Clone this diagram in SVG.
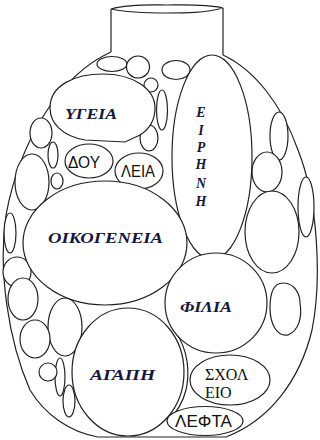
<svg xmlns="http://www.w3.org/2000/svg" width="320" height="440" viewBox="0 0 320 440">
<style>
.s{fill:#fff;stroke:#222;stroke-width:1.2}
.n{fill:none;stroke:#222;stroke-width:1.2}
.it{font-family:"Liberation Serif",serif;font-style:italic;font-weight:bold;fill:#16163a}
.sa{font-family:"Liberation Sans",sans-serif;fill:#111}
.se{font-family:"Liberation Serif",serif;fill:#111}
</style>
<rect width="320" height="440" fill="#fff"/>
<g id="jar">
<path class="n" d="M111,9 L111,52 M223,8 L223,55"/>
<path class="s" d="M111,9 C130,4 150,5 167,5 C185,5 205,4 223,8 C205,13 185,13 167,13 C150,13 130,13 111,9 Z"/>
<path class="n" d="M111,52 C60,75 20,140 6,215 C-2,270 8,340 30,390 C45,415 70,432 98,437 L226,437 C270,420 300,380 312,330 C322,280 318,200 298,150 C282,105 255,70 223,55"/>
</g>
<g id="small-circles">
<ellipse class="s" cx="112" cy="64" rx="15" ry="7.5"/>
<ellipse class="s" cx="138" cy="67" rx="11.5" ry="11"/>
<ellipse class="s" cx="151" cy="85" rx="7" ry="7"/>
<ellipse class="s" cx="176" cy="70" rx="14" ry="9.5"/>
<ellipse class="s" cx="162" cy="110" rx="5.5" ry="20"/>
<ellipse class="s" cx="149" cy="138" rx="9" ry="13"/>
<ellipse class="s" cx="279" cy="136" rx="9" ry="24"/>
<ellipse class="s" cx="267" cy="172" rx="15" ry="20"/>
<ellipse class="s" cx="306" cy="207" rx="8" ry="30"/>
<ellipse class="s" cx="272" cy="232" rx="27" ry="41"/>
<path class="s" d="M283,283 C296,283 300,296 300,303 C302,315 300,330 288,335 C276,337 270,322 270,308 C270,292 274,283 283,283 Z"/>
<ellipse class="s" cx="41" cy="133" rx="11" ry="15"/>
<ellipse class="s" cx="53" cy="155" rx="5" ry="13"/>
<ellipse class="s" cx="32" cy="182" rx="17" ry="28"/>
<ellipse class="s" cx="57" cy="181" rx="6" ry="8"/>
<ellipse class="s" cx="10" cy="233" rx="6" ry="20"/>
<ellipse class="s" cx="17" cy="272" rx="14" ry="15"/>
<ellipse class="s" cx="23" cy="299" rx="15" ry="21"/>
<ellipse class="s" cx="65" cy="327" rx="17" ry="29"/>
<ellipse class="s" cx="35" cy="339" rx="15" ry="19"/>
<ellipse class="s" cx="60" cy="377" rx="5" ry="19"/>
<ellipse class="s" cx="48" cy="372" rx="9" ry="9"/>
<ellipse class="s" cx="69" cy="401" rx="6" ry="16"/>
</g>
<g id="eirini">
<ellipse class="s" cx="212" cy="157" rx="40" ry="102"/>
<text class="it" font-size="14" text-anchor="middle"><tspan x="201" y="117">Ε</tspan><tspan x="201" y="135">Ι</tspan><tspan x="201" y="152">Ρ</tspan><tspan x="201" y="169">Η</tspan><tspan x="201" y="188">Ν</tspan><tspan x="201" y="206">Η</tspan></text>
</g>
<g id="ygeia">
<path class="s" d="M50,108 C50,85 75,74 103,74 C132,74 155,88 155,108 C155,122 148,130 140,135 L125,142 L85,140 C62,136 50,123 50,108 Z"/>
<text class="it" x="65" y="119" font-size="15" textLength="52" lengthAdjust="spacingAndGlyphs">ΥΓΕΙΑ</text>
</g>
<g id="dou">
<ellipse class="s" cx="89" cy="161" rx="24" ry="17"/>
<text class="sa" x="68" y="168" font-size="16" textLength="32" lengthAdjust="spacingAndGlyphs">ΔΟΥ</text>
</g>
<g id="leia">
<ellipse class="s" cx="139" cy="171" rx="24" ry="18"/>
<text class="sa" x="121" y="177" font-size="17" textLength="34" lengthAdjust="spacingAndGlyphs">ΛΕΙΑ</text>
</g>
<g id="oikogeneia">
<ellipse class="s" cx="105" cy="243" rx="82" ry="62"/>
<text class="it" x="48" y="243" font-size="14" textLength="115" lengthAdjust="spacingAndGlyphs">ΟΙΚΟΓΕΝΕΙΑ</text>
</g>
<g id="agapi">
<path class="n" d="M176,333 C188,350 190,372 186,390 C183,402 177,412 168,422"/>
<ellipse class="s" cx="128" cy="372" rx="56" ry="64"/>
<text class="it" x="90" y="380" font-size="14" textLength="65" lengthAdjust="spacingAndGlyphs">ΑΓΑΠΗ</text>
</g>
<g id="filia">
<ellipse class="s" cx="216" cy="303" rx="51" ry="50"/>
<text class="it" x="180" y="312" font-size="14" textLength="52" lengthAdjust="spacingAndGlyphs">ΦΙΛΙΑ</text>
</g>
<g id="scholeio">
<ellipse class="s" cx="230" cy="380" rx="40" ry="25"/>
<text class="se" font-size="16"><tspan x="205" y="380">ΣΧΟΛ</tspan><tspan x="205" y="398">ΕΙΟ</tspan></text>
</g>
<g id="lefta">
<ellipse class="s" cx="205" cy="421" rx="38" ry="14.5"/>
<text class="sa" x="175" y="427" font-size="16" textLength="57" lengthAdjust="spacingAndGlyphs">ΛΕΦΤΑ</text>
</g>
</svg>
